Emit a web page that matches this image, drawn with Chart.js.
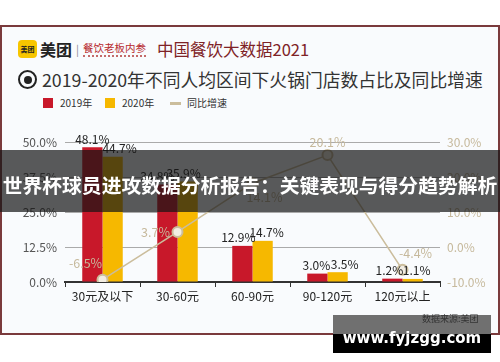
<!DOCTYPE html>
<html>
<head>
<meta charset="utf-8">
<script src="https://cdn.jsdelivr.net/npm/chart.js@4/dist/chart.umd.min.js"></script>
<style>
html,body{margin:0;padding:0;background:#fff;}
body{width:500px;height:362px;position:relative;overflow:hidden;font-family:'Noto Sans CJK SC','Noto Sans',sans-serif;}
.abs{position:absolute;white-space:nowrap;}
#frame{left:0;top:25px;width:496px;height:306px;border:2px solid #7a3a3c;background:#f9fbfd;}
#logo{left:18px;top:40px;width:19px;height:18px;background:#f7c600;border-radius:4px;font-size:7px;line-height:18px;text-align:center;color:#222;font-weight:bold;}
#brand{left:40px;top:39px;font-size:16px;line-height:20px;font-weight:bold;color:#222;}
#sep{left:76px;top:42px;font-size:11px;line-height:14px;color:#888;}
#sub{left:83px;top:41px;font-size:10.5px;line-height:13px;color:#b7292d;border-bottom:2px dotted #c46a6a;padding-bottom:1px;}
#head{left:157px;top:39px;font-size:16.5px;line-height:21px;color:#7e2226;}
#ring{left:18px;top:70px;width:15px;height:15px;border:2.5px solid #222;border-radius:50%;}
#dot{left:24px;top:76px;width:8px;height:8px;background:#222;border-radius:50%;}
#title{left:42px;top:68px;font-size:17.8px;line-height:23px;color:#333;}
.sw{width:10px;height:10px;top:98px;}
.lg{top:96px;font-size:10px;line-height:14px;color:#333;}
#band{left:0;top:150px;width:500px;height:62px;background:rgba(20,20,20,0.7);}
#bandtxt{left:0;top:172px;width:500px;text-align:center;font-size:19.8px;line-height:26px;font-weight:bold;color:#fff;}
#wm1{left:333px;top:315px;width:158px;height:19px;background:#707070;}
#wm2{left:333px;top:334px;width:158px;height:19px;background:#000;}
#src{left:422px;top:313px;font-size:9px;line-height:12px;color:#333;}
#url{left:333px;top:328px;width:158px;text-align:center;font-family:'DejaVu Sans',sans-serif;font-weight:bold;font-size:15px;line-height:20px;color:#fff;}
#wrap{left:0;top:120px;width:500px;height:200px;}
</style>
</head>
<body>
<div class="abs" id="frame"></div>
<div class="abs" id="logo">美团</div>
<div class="abs" id="brand">美团</div>
<div class="abs" id="sep">|</div>
<div class="abs" id="sub">餐饮老板内参</div>
<div class="abs" id="head">中国餐饮大数据2021</div>
<div class="abs" id="ring"></div>
<div class="abs" id="dot"></div>
<div class="abs" id="title">2019-2020年不同人均区间下火锅门店数占比及同比增速</div>
<div class="abs sw" style="left:43px;background:#c8182a"></div>
<div class="abs lg" style="left:60px">2019年</div>
<div class="abs sw" style="left:105px;background:#f6b800"></div>
<div class="abs lg" style="left:122px">2020年</div>
<div class="abs" style="left:170px;top:102px;width:11px;height:3px;background:#cbbd9c"></div>
<div class="abs lg" style="left:187px">同比增速</div>
<div class="abs" id="wrap"><canvas id="c" width="500" height="200"></canvas></div>
<div class="abs" id="band"></div>
<div class="abs" id="bandtxt">世界杯球员进攻数据分析报告：关键表现与得分趋势解析</div>
<div class="abs" id="wm1"></div>
<div class="abs" id="wm2"></div>
<div class="abs" id="src">数据来源:美团</div>
<div class="abs" id="url">www.fyjzgg.com</div>
<script>
var CATEGORIES=['30元及以下','30-60元','60-90元','90-120元','120元以上'];
var SHARE_2019=[48.1,34.8,12.9,3.0,1.2];
var SHARE_2020=[44.7,35.9,14.7,3.5,1.1];
var GROWTH=[-6.5,3.7,14.1,20.1,-4.4];
var LEFT_TICKS=[0,12.5,25,37.5,50];
var RIGHT_TICKS=[-10,0,10,20,30];

var RED='#c8182a',YEL='#f6b800',TAN='#cbbd9c',FONT="'Noto Sans CJK SC','Noto Sans',sans-serif";
// label nudges (px): bar labels shift sideways to avoid overlap, line labels sit beside points
var BAR_DX=[[0,-10,-4,-1,-3],[7,-4,4,7,4]];
var LINE_LBL=[[-17,-16],[-22,0],[12,14],[0,-13],[13,-17]];

var labelPlugin={
  id:'lbls',
  afterDatasetsDraw:function(chart){
    var ctx=chart.ctx;
    ctx.save();
    ctx.textAlign='center';
    [0,1].forEach(function(di){
      ctx.font='12px '+FONT;ctx.fillStyle='#222';ctx.textBaseline='bottom';
      chart.getDatasetMeta(di).data.forEach(function(el,i){
        var v=chart.data.datasets[di].data[i];
        ctx.fillText(v.toFixed(1)+'%',el.x+BAR_DX[di][i],el.y-2);
      });
    });
    ctx.font='12.5px '+FONT;ctx.fillStyle='#c6b99c';ctx.textBaseline='middle';
    chart.getDatasetMeta(2).data.forEach(function(el,i){
      var o=LINE_LBL[i];
      ctx.fillText(GROWTH[i].toFixed(1)+'%',el.x+o[0],el.y+o[1]);
    });
    ctx.restore();
  }
};

new Chart(document.getElementById('c'),{
  type:'bar',
  data:{
    labels:CATEGORIES,
    datasets:[
      {label:'2019年',data:SHARE_2019,backgroundColor:RED,yAxisID:'y',order:2,categoryPercentage:0.54,barPercentage:1},
      {label:'2020年',data:SHARE_2020,backgroundColor:YEL,yAxisID:'y',order:2,categoryPercentage:0.54,barPercentage:1},
      {type:'line',label:'同比增速',data:GROWTH,yAxisID:'yLine',order:0,borderColor:TAN,borderWidth:1.6,
       pointRadius:5,pointHoverRadius:5,pointBorderWidth:2,pointBorderColor:TAN,pointBackgroundColor:'#f2ede2',tension:0}
    ]
  },
  options:{
    responsive:false,animation:false,
    layout:{padding:{top:22,left:0,right:0,bottom:0}},
    plugins:{legend:{display:false},tooltip:{enabled:false}},
    scales:{
      x:{
        grid:{display:true,drawOnChartArea:false,drawTicks:true,tickLength:5,color:'#333',offset:true},
        border:{color:'#333',width:2},
        ticks:{color:'#222',font:{family:FONT,size:12},padding:2},
        afterFit:function(s){s.height=38;}
      },
      y:{
        position:'left',min:0,max:50,
        afterBuildTicks:function(s){s.ticks=LEFT_TICKS.map(function(v){return {value:v};});},
        ticks:{color:'#555',font:{family:FONT,size:12},padding:8,callback:function(v){return v.toFixed(1)+'%';}},
        grid:{color:'#aaa',drawTicks:false},
        border:{display:false},
        afterFit:function(s){s.width=65;}
      },
      y2:{
        position:'right',min:-10,max:30,
        afterBuildTicks:function(s){s.ticks=RIGHT_TICKS.map(function(v){return {value:v};});},
        ticks:{color:'#c6b99c',font:{family:FONT,size:12},padding:7,callback:function(v){return v.toFixed(1)+'%';}},
        grid:{drawOnChartArea:false,drawTicks:false},
        border:{display:false},
        afterFit:function(s){s.width=60;}
      },
      yLine:{display:false,min:-7.0,max:22.9}
    }
  },
  plugins:[labelPlugin]
});
</script>
</body>
</html>
